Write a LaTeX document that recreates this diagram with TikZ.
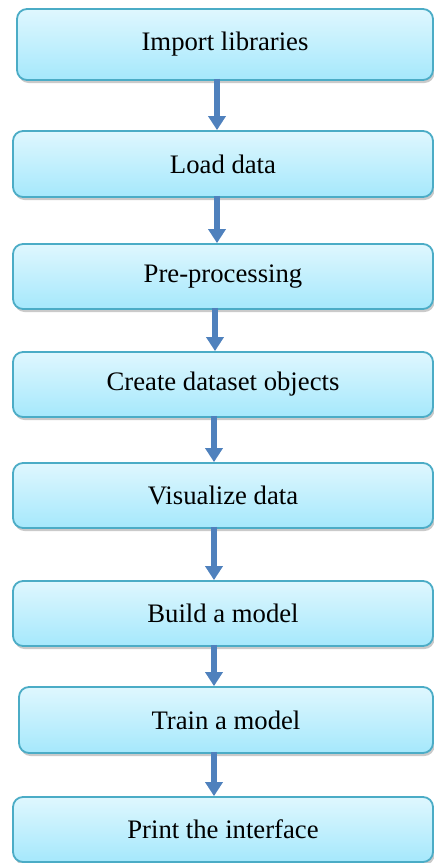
\documentclass[tikz,border=0pt]{standalone}
\usepackage{fontspec}
\setmainfont{Liberation Serif}
\usetikzlibrary{arrows.meta,shadows,calc}
\definecolor{boxtop}{RGB}{223,247,254}
\definecolor{boxbot}{RGB}{165,232,252}
\definecolor{boxline}{RGB}{75,172,198}
\definecolor{arrowcol}{RGB}{79,129,189}
\tikzset{
  stepbox/.style={draw=boxline, line width=1.8bp, rounded corners=10bp,
    top color=boxtop, bottom color=boxbot, inner sep=0pt,
    font=\fontsize{26.8}{30}\selectfont,
    drop shadow={shadow xshift=1.5bp, shadow yshift=-3bp, opacity=0.35, fill=black!60}},
  flowarrow/.style={draw=arrowcol, line width=6bp,
    -{Triangle[width=17bp,length=14bp]}}
}
\newcommand{\stepnode}[6]{%
  % name, x1, y1, x2, y2, text
  \node[stepbox, minimum width={(#4-#2)*1bp}, minimum height={(#5-#3)*1bp}]
    (#1) at ({(#2+#4)/2},{(#3+#5)/2}) {#6};}
\begin{document}
\begin{tikzpicture}[x=1bp,y=-1bp]
\useasboundingbox (0,0) rectangle (434,863);
\stepnode{b1}{17}{9}{433}{80}{Import libraries}
\stepnode{b2}{13}{131}{433}{197}{Load data}
\stepnode{b3}{13}{244}{433}{309}{Pre-processing}
\stepnode{b4}{13}{352}{433}{417}{Create dataset objects}
\stepnode{b5}{13}{463}{433}{528}{Visualize data}
\stepnode{b6}{13}{581}{433}{646}{Build a model}
\stepnode{b7}{19}{687}{433}{753}{Train a model}
\stepnode{b8}{13}{797}{433}{862}{Print the interface}
\coordinate (ca) at (217,0);
\coordinate (cb) at (215,0);
\coordinate (cc) at (214,0);
\draw[flowarrow] ([yshift=2bp]b1.south -| ca) -- (b2.north -| ca);
\draw[flowarrow] ([yshift=2bp]b2.south -| ca) -- (b3.north -| ca);
\draw[flowarrow] ([yshift=2bp]b3.south -| cb) -- (b4.north -| cb);
\draw[flowarrow] ([yshift=2bp]b4.south -| cc) -- (b5.north -| cc);
\draw[flowarrow] ([yshift=2bp]b5.south -| cc) -- (b6.north -| cc);
\draw[flowarrow] ([yshift=2bp]b6.south -| cc) -- (b7.north -| cc);
\draw[flowarrow] ([yshift=2bp]b7.south -| cc) -- (b8.north -| cc);
\end{tikzpicture}
\end{document}
